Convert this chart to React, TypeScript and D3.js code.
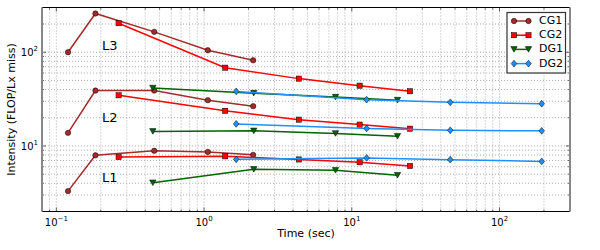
import React from 'react';
import * as d3 from 'd3';

// times (sec) per code variant
const cgTimes1 = [0.12, 0.184, 0.46, 1.06, 2.15];
const cgTimes2 = [0.264, 1.39, 4.38, 11.3, 24.8];
const dgTimes1 = [0.45, 2.17, 7.76, 20.4];
const dgTimes2 = [1.65, 12.6, 46.4, 193];

// intensity per cache level
const cg1L3 = [100, 259, 165, 105, 82];
const cg1L2 = [13.8, 39, 39, 30.8, 26.6];
const cg1L1 = [3.3, 7.95, 8.88, 8.65, 8.04];

const cg2L3 = [204, 68.4, 52.3, 44, 38.3];
const cg2L2 = [34.7, 23.7, 19.1, 16.9, 15.3];
const cg2L1 = [7.62, 7.76, 7.18, 6.7, 6.12];

const dg1L3 = [41.5, 36.6, 33.2, 30.8];
const dg1L2 = [14.3, 14.5, 13.6, 12.7];
const dg1L1 = [4.05, 5.63, 5.5, 4.87];

const dg2L3 = [38.2, 31.2, 29.2, 28.2];
const dg2L2 = [17.2, 15.4, 14.7, 14.5];
const dg2L1 = [7.2, 7.45, 7.15, 6.85];

const levelLabels = ['L3', 'L2', 'L1'];
const levelLabelY = [114, 19.8, 4.5];
const xTickExps = [-1, 0, 1, 2];
const yTickExps = [1, 2];

type Marker = 'circle' | 'square' | 'tri' | 'diamond';
const series: { name: string; color: string; marker: Marker; t: number[]; levels: number[][] }[] = [
  { name: 'CG1', color: '#a52a2a', marker: 'circle', t: cgTimes1, levels: [cg1L3, cg1L2, cg1L1] },
  { name: 'CG2', color: '#ff0000', marker: 'square', t: cgTimes2, levels: [cg2L3, cg2L2, cg2L1] },
  { name: 'DG1', color: '#006400', marker: 'tri', t: dgTimes1, levels: [dg1L3, dg1L2, dg1L1] },
  { name: 'DG2', color: '#1e90ff', marker: 'diamond', t: dgTimes2, levels: [dg2L3, dg2L2, dg2L1] },
];

const margin = { left: 42, right: 30, top: 7.5, bottom: 38.5 };
const W = 600, H = 250;
const FONT = '"DejaVu Sans", sans-serif';

const x = d3.scaleLog().domain([0.08, 300]).range([margin.left, W - margin.right]);
const y = d3.scaleLog().domain([2, 300]).range([H - margin.bottom, margin.top]);

function drawMarker(m: Marker, cx: number, cy: number, color: string, key: string) {
  const common = { fill: color, stroke: '#000', strokeWidth: 0.5 };
  if (m === 'circle') return <circle key={key} cx={cx} cy={cy} r={2.7} {...common} />;
  if (m === 'square') return <rect key={key} x={cx - 2.6} y={cy - 2.6} width={5.2} height={5.2} {...common} />;
  if (m === 'tri')
    return <path key={key} d={`M${cx - 3.2},${cy - 2.8}L${cx + 3.2},${cy - 2.8}L${cx},${cy + 2.8}Z`} {...common} />;
  return <path key={key} d={`M${cx},${cy - 3.4}L${cx + 2.8},${cy}L${cx},${cy + 3.4}L${cx - 2.8},${cy}Z`} {...common} />;
}

function Sup({ base, exp, ...rest }: any) {
  return (
    <text {...rest}>
      {base}
      <tspan dy={-5} fontSize={7}>{exp}</tspan>
    </text>
  );
}

export default function App() {
  const [x0, x1] = x.range();
  const [y0, y1] = y.range();
  const line = d3.line<[number, number]>().x(d => x(d[0])).y(d => y(d[1]));

  const xMinor: number[] = [];
  for (let e = -2; e <= 2; e++) for (let k = 1; k < 10; k++) {
    const v = k * Math.pow(10, e);
    if (v > 0.08 && v < 300) xMinor.push(v);
  }
  const yMinor: number[] = [];
  for (let e = 0; e <= 2; e++) for (let k = 1; k < 10; k++) {
    const v = k * Math.pow(10, e);
    if (v > 2 && v < 300) yMinor.push(v);
  }

  const legendX = 507, legendY = 12.5;
  return (
    <svg width={W} height={H} style={{ position: 'absolute', left: 0, top: 0, background: '#fff' }} fontFamily={FONT}>
      {/* grid */}
      <g stroke="#9a9a9a" strokeWidth={0.8} strokeDasharray="1,2">
        {xMinor.map(v => <line key={'gx' + v} x1={x(v)} x2={x(v)} y1={y0} y2={y1} />)}
        {yMinor.map(v => <line key={'gy' + v} x1={x0} x2={x1} y1={y(v)} y2={y(v)} />)}
      </g>
      {/* ticks inside */}
      <g stroke="#000" strokeWidth={0.6}>
        {xMinor.map(v => {
          const major = Math.abs(Math.log10(v) - Math.round(Math.log10(v))) < 1e-9;
          const len = major ? 4 : 2;
          return (
            <g key={'tx' + v}>
              <line x1={x(v)} x2={x(v)} y1={y0} y2={y0 - len} />
              <line x1={x(v)} x2={x(v)} y1={y1} y2={y1 + len} />
            </g>
          );
        })}
        {yMinor.map(v => {
          const major = Math.abs(Math.log10(v) - Math.round(Math.log10(v))) < 1e-9;
          const len = major ? 4 : 2;
          return (
            <g key={'ty' + v}>
              <line x1={x0} x2={x0 + len} y1={y(v)} y2={y(v)} />
              <line x1={x1} x2={x1 - len} y1={y(v)} y2={y(v)} />
            </g>
          );
        })}
      </g>

      {/* series */}
      {series.map(s => (
        <g key={s.name}>
          {s.levels.map((vals, li) => (
            <g key={li}>
              <path
                d={line(s.t.map((t, i) => [t, vals[i]] as [number, number])) || ''}
                fill="none"
                stroke={s.color}
                strokeWidth={1.5}
              />
              {s.t.map((t, i) => drawMarker(s.marker, x(t), y(vals[i]), s.color, s.name + li + '-' + i))}
            </g>
          ))}
        </g>
      ))}

      {/* level annotations */}
      {levelLabels.map((l, i) => (
        <text key={l} x={x(0.204)} y={y(levelLabelY[i])} fontSize={13} dominantBaseline="middle" fill="#000">
          {l}
        </text>
      ))}

      {/* frame */}
      <line x1={x0} x2={x1} y1={y1} y2={y1} stroke="#000" strokeWidth={1.2} />
      <line x1={x0} x2={x1} y1={y0} y2={y0} stroke="#000" strokeWidth={1.2} />
      <line x1={x0} x2={x0} y1={y0} y2={y1} stroke="#888" strokeWidth={2} />
      <line x1={x1} x2={x1} y1={y0} y2={y1} stroke="#888" strokeWidth={2} />

      {/* tick labels */}
      {xTickExps.map(e => (
        <Sup
          key={'xl' + e}
          base="10"
          exp={e < 0 ? '\u2212' + Math.abs(e) : String(e)}
          x={x(Math.pow(10, e))}
          y={y0 + 14}
          fontSize={10}
          textAnchor="middle"
        />
      ))}
      {yTickExps.map(e => (
        <Sup
          key={'yl' + e}
          base="10"
          exp={String(e)}
          x={x0 - 4}
          y={y(Math.pow(10, e)) + 4}
          fontSize={10}
          textAnchor="end"
        />
      ))}

      {/* axis labels */}
      <text x={(x0 + x1) / 2} y={237} fontSize={11} textAnchor="middle">Time (sec)</text>
      <text transform={`translate(15,${(y0 + y1) / 2}) rotate(-90)`} fontSize={11} textAnchor="middle">
        Intensity (FLOP/Lx miss)
      </text>

      {/* legend */}
      <rect x={legendX} y={legendY} width={58.5} height={60.5} fill="#fff" stroke="#333" strokeWidth={1.2} />
      {series.map((s, i) => {
        const ly = legendY + 8.5 + i * 14.2;
        return (
          <g key={'lg' + s.name}>
            <line x1={legendX + 7} x2={legendX + 21.5} y1={ly} y2={ly} stroke={s.color} strokeWidth={1.5} />
            {drawMarker(s.marker, legendX + 7, ly, s.color, 'lm1' + i)}
            {drawMarker(s.marker, legendX + 21.5, ly, s.color, 'lm2' + i)}
            <text x={legendX + 32} y={ly} fontSize={11} dominantBaseline="middle">{s.name}</text>
          </g>
        );
      })}
    </svg>
  );
}
